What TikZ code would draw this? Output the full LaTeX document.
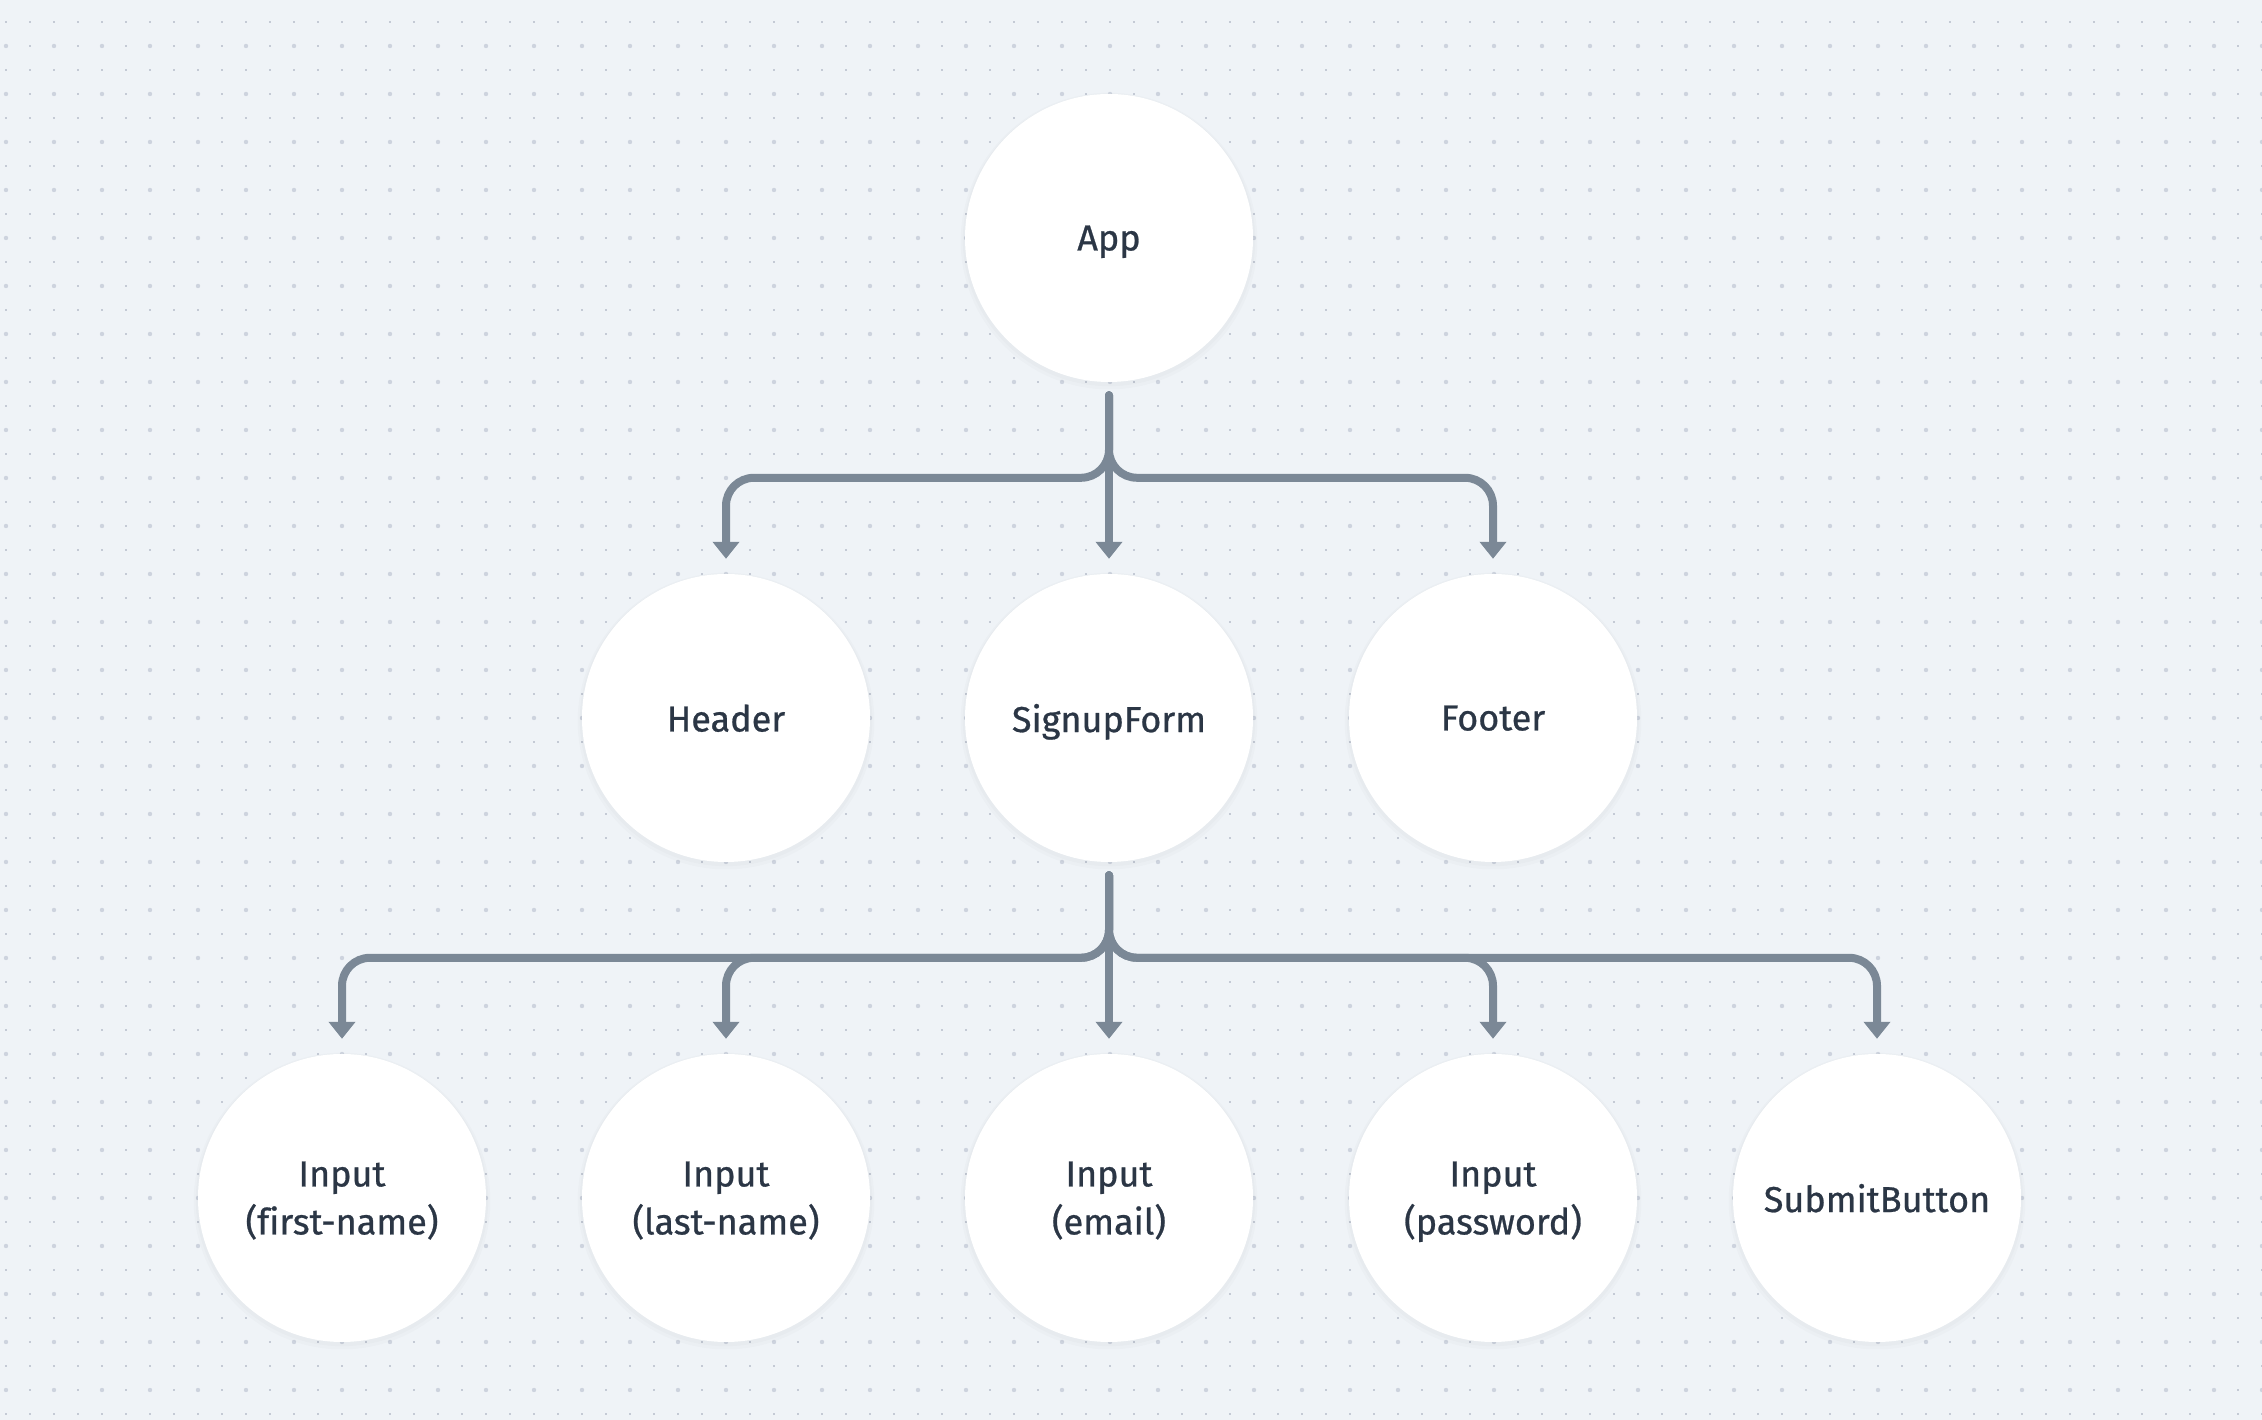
\documentclass[tikz,border=0pt]{standalone}
\usepackage{fontspec}
\setmainfont{Fira Sans}[Ligatures=NoCommon, FakeBold=0.7]
\usetikzlibrary{arrows.meta,calc,shadows}
\definecolor{bg}{HTML}{EFF3F7}
\definecolor{dotsmall}{HTML}{C4CAD5}
\definecolor{dotlarge}{HTML}{CDD3DE}
\definecolor{ink}{HTML}{2B3645}
\definecolor{edge}{HTML}{7B8896}
\begin{document}
\begin{tikzpicture}[x=1pt,y=1pt,
  comp/.style={circle, fill=white, minimum size=288pt, inner sep=0pt, text=ink,
    font=\fontsize{36}{48}\selectfont, align=center, text depth=0pt,
    drop shadow={shadow xshift=0pt, shadow yshift=-3pt, opacity=0.015, shadow scale=1.03, fill=black},
    drop shadow={shadow xshift=0pt, shadow yshift=-2pt, opacity=0.015, shadow scale=1.015, fill=black}},
  conn/.style={draw=edge, line width=8pt, rounded corners=28pt, line cap=round,
    -{Triangle[width=26pt,length=17pt]}}]
% background
\fill[bg] (0,0) rectangle (2262,1420);
\useasboundingbox (0,0) rectangle (2262,1420);
% dot grid
\foreach \i in {0,...,94}{
  \foreach \j in {0,...,58}{
    \pgfmathsetmacro{\xx}{6+24*\i}
    \pgfmathsetmacro{\yy}{1420-22-24*\j}
    \pgfmathparse{int(mod(\i,2)==0 && mod(\j,2)==1)}
    \ifnum\pgfmathresult=1
      \fill[dotlarge] (\xx,\yy) circle (2.2);
    \else
      \fill[dotsmall] (\xx-1.2,\yy-1.2) rectangle (\xx+1.2,\yy+1.2);
    \fi
  }
}
% nodes
\node[comp] (app) at (1109,1182) {App};
\node[comp] (hdr) at (726,702) {Header};
\node[comp] (form) at (1109,702) {SignupForm};
\node[comp] (ftr) at (1493,702) {Footer};
\node[comp] (first) at (342,222) {Input\\(first-name)};
\node[comp] (last) at (726,222) {Input\\(last-name)};
\node[comp] (email) at (1109,222) {Input\\(email)};
\node[comp] (pass) at (1493,222) {Input\\(password)};
\node[comp] (submit) at (1877,222) {SubmitButton};
% connectors
\foreach \p/\c in {app/hdr, app/form, app/ftr, form/first, form/last, form/email, form/pass, form/submit}{
  \draw[conn] ([yshift=-13pt]\p.south) |- ($(\c.north)+(0,96)$) -- ([yshift=15pt]\c.north);
}
\end{tikzpicture}
\end{document}
